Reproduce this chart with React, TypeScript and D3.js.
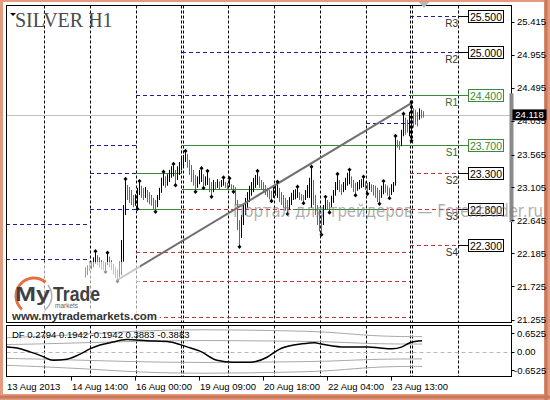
import React from "react";
import * as d3 from "d3";

// ---- price axis ticks
const priceTicks = [25.415, 24.955, 24.495, 24.035, 23.565, 23.105, 22.645, 22.185, 21.725, 21.255];
const lastPrice = 24.118;

// ---- H1 bars (bar index 0.. ), highs / lows / direction (u = up, d = down)
const hi = [
  21.99, 22.02, 22.07, 22.07, 22.13, 22.2, 22.16, 22.13, 22.09, 22.07,
  22.06, 22.18, 22.14, 22.09, 22.04, 21.99, 21.96, 22.07, 22.37, 22.86,
  23.21, 23.14, 23.11, 23.07, 23.0, 23.01, 23.1, 23.18, 23.13, 23.1,
  23.11, 23.07, 23.04, 23.0, 22.96, 22.93, 23.0, 23.1, 23.24, 23.31,
  23.26, 23.29, 23.35, 23.4, 23.42, 23.35, 23.4, 23.46, 23.52, 23.56,
  23.6, 23.57, 23.49, 23.42, 23.35, 23.28, 23.26, 23.35, 23.36, 23.29,
  23.26, 23.32, 23.24, 23.18, 23.21, 23.18, 23.22, 23.19, 23.21, 23.23,
  23.18, 23.17, 23.22, 23.15, 23.14, 23.11, 22.93, 22.65, 22.72, 22.86,
  22.96, 23.04, 23.13, 23.18, 23.24, 23.28, 23.32, 23.26, 23.21, 23.18,
  23.14, 23.1, 23.07, 23.06, 23.13, 23.14, 23.17, 23.1, 23.04, 23.0,
  22.96, 22.93, 22.97, 23.03, 23.07, 23.08, 23.1, 23.04, 23.01, 23.0,
  23.07, 23.14, 23.24, 23.38, 23.21, 23.0, 22.86, 22.79, 22.72, 22.86,
  22.96, 22.93, 22.9, 22.99, 23.07, 23.18, 23.28, 23.21, 23.15, 23.18,
  23.24, 23.31, 23.34, 23.26, 23.21, 23.17, 23.18, 23.21, 23.22, 23.24,
  23.19, 23.17, 23.18, 23.15, 23.14, 23.13, 23.1, 23.07, 23.13, 23.18,
  23.15, 23.13, 23.1, 23.15, 23.18, 23.81, 23.77, 23.75, 23.91, 24.12,
  24.08, 24.05, 24.16, 24.28, 24.21, 24.19, 24.16, 24.21, 24.19, 24.17,
];
const lo = [
  21.85, 21.88, 21.94, 21.96, 21.99, 22.04, 22.02, 21.99, 21.96, 21.95,
  21.94, 22.02, 21.99, 21.95, 21.89, 21.84, 21.81, 21.85, 21.88, 22.07,
  22.72, 22.93, 22.89, 22.86, 22.83, 22.85, 22.82, 23.0, 22.96, 22.93,
  22.96, 22.9, 22.87, 22.85, 22.8, 22.78, 22.83, 22.93, 23.03, 23.13,
  23.1, 23.13, 23.18, 23.24, 23.26, 23.15, 23.21, 23.28, 23.35, 23.4,
  23.46, 23.38, 23.28, 23.18, 23.13, 23.06, 23.1, 23.15, 23.18, 23.11,
  23.13, 23.14, 23.04, 22.99, 23.04, 23.07, 23.1, 23.08, 23.11, 23.13,
  23.1, 23.08, 23.11, 23.07, 23.06, 22.86, 22.51, 22.29, 22.4, 22.58,
  22.72, 22.82, 22.9, 22.99, 23.04, 23.1, 23.14, 23.1, 23.07, 23.03,
  23.0, 22.97, 22.94, 22.93, 22.96, 22.99, 22.96, 22.9, 22.86, 22.82,
  22.78, 22.75, 22.79, 22.86, 22.93, 22.94, 22.96, 22.93, 22.92, 22.9,
  22.93, 22.96, 22.96, 22.82, 22.86, 22.72, 22.58, 22.49, 22.46, 22.58,
  22.8, 22.79, 22.77, 22.83, 22.89, 22.99, 23.07, 23.04, 23.0, 23.04,
  23.07, 23.13, 23.15, 23.1, 23.04, 23.01, 23.06, 23.08, 23.1, 23.11,
  23.07, 23.03, 23.07, 23.04, 22.99, 22.96, 22.9, 22.89, 22.96, 23.01,
  23.03, 22.99, 22.97, 23.0, 23.04, 23.13, 23.66, 23.63, 23.68, 23.82,
  23.84, 23.87, 23.82, 23.77, 23.94, 23.98, 23.96, 24.05, 24.07, 24.08,
];
const dir =
  "uuduuudddd" + "uuddddduuu" + "udddduuudd" + "uddddduuuu" + "duuuuduuuu" +
  "uddddduuud" + "uuddududuu" + "dduddddduu" + "uuuuuuuddd" + "dddduuuddd" +
  "dduuuuuddd" + "uuuudddddu" + "udduuuuddu" + "uuuddduuuu" + "dduddddduu" +
  "ddduuudduu" + "dduudddudd";

const fractalUp = [5, 11, 20, 27, 39, 44, 50, 58, 61, 69, 72, 86, 96, 106, 113, 120, 126, 132, 139, 149, 155, 159, 163];
const fractalDown = [10, 16, 26, 35, 45, 55, 59, 63, 74, 77, 93, 101, 109, 118, 122, 135, 141, 147, 152, 163];

// trendline from low of one bar to high of another
const trendFromBar = 16;
const trendToBar = 163;

// ---- time axis
const timeLabels = ["13 Aug 2013", "14 Aug 14:00", "16 Aug 00:00", "19 Aug 09:00", "20 Aug 18:00", "22 Aug 04:00", "23 Aug 13:00"];
const timeTickBars = [-39.5, -7, 25, 57, 89, 121, 153];
const gridBars = [-20.5, 2.5, 25.5, 48, 49, 71.5, 94.5, 117.5, 140.5, 162.5, 163.5, 186.5];

// ---- pivot levels (current day)
const pivotNames = ["R3", "R2", "R1", "S1", "S2", "S3", "S4"];
const pivotValues = [25.5, 25.0, 24.4, 23.7, 23.3, 22.8, 22.3];
const pivotKey = [false, false, true, true, false, false, false];

// ---- level segments (price, from bar, to bar, kind r/g/s)
const levelPrice = [25.5, 25.0, 24.4, 24.0, 23.7, 23.3, 22.8, 22.6, 22.1, 24.4, 23.7, 23.3, 22.8, 23.08, 22.8, 23.3, 22.8, 22.8, 22.3, 22.2, 21.8, 21.3];
const levelFrom = [162.5, 48.5, 25.5, 140.5, 2.5, 2.5, 2.5, -39.5, -39.5, 162.5, 48.5, 25.5, 25.5, 48.5, 104, 162.5, 48.5, 149, 162.5, 25.5, 25.5, 25.5];
const levelTo = [186.5, 186.5, 162.5, 162.5, 25.5, 25.5, 25.5, 1, 1, 191.5, 191.5, 48, 48, 91, 149, 186.5, 104, 186.5, 186.5, 162.5, 162.5, 162.5];
const levelKind = "rrrrrrrrrggggggsssssss";

const rangeBar = [22.62, 24.42];

// ---- DF indicator
const dfBars = [-39, -34, -27.5, -21.5, -16, -9, -2.5, 2.5, 7.5, 12.5, 21, 31, 42.5, 51, 57.5, 66, 74, 82.5, 91, 95, 98.5, 108.5, 115, 117.5, 128.5, 141.5, 147.5, 153.5, 158.5, 162.5, 168.5];
const dfValues = [0.12, 0.09, -0.01, -0.12, -0.23, -0.2, -0.07, 0.07, 0.17, 0.23, 0.31, 0.28, 0.25, 0.12, 0.01, -0.23, -0.28, -0.28, -0.15, -0.01, 0.09, 0.2, 0.23, 0.2, 0.12, 0.12, 0.09, 0.07, 0.12, 0.23, 0.2794];
const bandBars = [-39.5, -20, 0, 20, 40, 60, 80, 100, 120, 140, 155, 168.5];
const bandOuter = [0.36, 0.4, 0.45, 0.52, 0.56, 0.57, 0.56, 0.54, 0.52, 0.42, 0.39, 0.3883];
const bandInner = [0.18, 0.2, 0.23, 0.26, 0.28, 0.29, 0.28, 0.27, 0.26, 0.21, 0.195, 0.1942];
const dfAxis = ["0.6525", "0.00", "-0.6525"];
const dfLegend = "DF 0.2794 0.1942 -0.1942 0.3883 -0.3883";

const RED = "#D03A3A";
const NAVY = "#1E1E9C";
const GREEN = "#3A8A3A";
const SUP = "#C03838";
const SANS = "'Liberation Sans', Arial, sans-serif";

export default function App() {
  const W = 550, H = 400;
  const L = 6.5, R = 511.5, T = 5.5, B = 322.5, ST = 325.5, SB = 376.5;
  const x = d3.scaleLinear().domain([-39.5, 213]).range([6, 511]);
  const y = d3.scaleLinear().domain([21.22, 25.652]).range([322.5, 5]);
  const yi = d3.scaleLinear().domain([-0.6525, 0.6525]).range([376.5, 326.5]);
  const px = (i: number) => Math.round(x(i)) + 0.5;

  const dfPath = d3.line<number>().x((_, k) => x(dfBars[k])).y((v) => yi(v)).curve(d3.curveMonotoneX)(dfValues) || "";
  const bandPath = (arr: number[], s: number) =>
    d3.line<number>().x((_, k) => x(bandBars[k])).y((v) => yi(s * v)).curve(d3.curveBasis)(arr) || "";

  const orangeArc = d3.arc()({ innerRadius: 16.5, outerRadius: 19.5, startAngle: -2.4, endAngle: 0.7 } as any) || "";
  const grayArc = d3.arc()({ innerRadius: 17, outerRadius: 18.5, startAngle: 0.9, endAngle: 2.5 } as any) || "";

  const diamond = (cx: number, cy: number) => `M${cx},${cy - 2.2}L${cx + 2},${cy}L${cx},${cy + 2.2}L${cx - 2},${cy}Z`;

  return (
    <svg width={W} height={H} style={{ position: "fixed", left: 0, top: 0 }} fontFamily={SANS}>
      <defs>
        <clipPath id="mainClip"><rect x={L} y={T} width={R - L} height={B - T} /></clipPath>
        <clipPath id="subClip"><rect x={L} y={ST} width={R - L} height={SB - ST} /></clipPath>
      </defs>
      {/* frame */}
      <rect x={0} y={0} width={W} height={H} fill="#E49A7E" />
      <rect x={3} y={2} width={541} height={392} fill="#ffffff" />
      <line x1={546} y1={0} x2={546} y2={400} stroke="#C9785C" strokeWidth={3} />
      <line x1={0} y1={397} x2={550} y2={397} stroke="#C9785C" strokeWidth={3} />

      {/* main panel */}
      <g clipPath="url(#mainClip)">
        {gridBars.map((g, k) => (
          <line key={"g" + k} x1={px(g)} x2={px(g)} y1={T} y2={B} stroke="#000" strokeDasharray="3,2" />
        ))}
        <line x1={L} x2={R} y1={Math.round(y(lastPrice)) + 0.5} y2={Math.round(y(lastPrice)) + 0.5} stroke="#C0C0C0" />
        {levelPrice.map((p, k) => {
          const kind = levelKind[k];
          const yy = Math.round(y(p)) + 0.5;
          return (
            <line key={"lv" + k} x1={x(levelFrom[k])} x2={x(levelTo[k])} y1={yy} y2={yy}
              stroke={kind === "r" ? NAVY : kind === "g" ? GREEN : SUP}
              strokeDasharray={kind === "g" ? undefined : "4,3"} />
          );
        })}
        {hi.map((h, i) => (
          <line key={"b" + i} x1={px(i)} x2={px(i)} y1={y(h)} y2={y(lo[i])}
            stroke={dir[i] === "d" ? RED : "#000"} strokeWidth={1} />
        ))}
        <line x1={x(trendFromBar)} y1={y(lo[trendFromBar])} x2={x(trendToBar)} y2={y(hi[trendToBar])} stroke="#707070" strokeWidth={2} />
        {fractalUp.map((i) => <path key={"fu" + i} d={diamond(px(i), y(hi[i]) - 1)} fill="#000" />)}
        {fractalDown.map((i) => <path key={"fd" + i} d={diamond(px(i), y(lo[i]) + 1)} fill="#000" />)}

        {/* pivot labels */}
        {pivotValues.map((p, k) => {
          const yy = Math.round(y(p)) + 0.5;
          const col = pivotKey[k] ? GREEN : "#000";
          return (
            <g key={"pv" + k}>
              <line x1={x(186.5)} x2={468.5} y1={yy} y2={yy} stroke={col} />
              <text x={458} y={yy + 10.5} textAnchor="end" fontSize={10} fill={pivotKey[k] ? "#2F6F2F" : "#333"}>{pivotNames[k]}</text>
              <rect x={468.5} y={yy - 6} width={35} height={12} fill="#fff" stroke={col} />
              <text x={486} y={yy + 4} textAnchor="middle" fontSize={10.5} fill={pivotKey[k] ? GREEN : "#000"}>{p.toFixed(3)}</text>
            </g>
          );
        })}

        {/* logo */}
        <rect x={8} y={262} width={132} height={47} fill="#fff" opacity={0.6} />
        <rect x={8} y={309} width={152} height={13} fill="#fff" opacity={0.85} />
        <g transform="translate(34,296)">
          <path d={orangeArc} fill="#E2703A" />
          <path d={grayArc} fill="#B0B0B0" />
        </g>
        <text x={15} y={301} fontSize={21} fontWeight="bold" fill="#404040" textLength={35} lengthAdjust="spacingAndGlyphs">My</text>
        <text x={53} y={301} fontSize={21} fontWeight="bold" fill="#404040" textLength={47} lengthAdjust="spacingAndGlyphs">Trade</text>
        <text x={55} y={308} fontSize={6.5} fill="#666">markets</text>
        <text x={12} y={320} fontSize={11.5} fontWeight="bold" fill="#333" textLength={145} lengthAdjust="spacingAndGlyphs">www.mytrademarkets.com</text>
      </g>
      <rect x={L} y={T} width={R - L} height={B - T} fill="none" stroke="#000" />
      <rect x={509.5} y={y(rangeBar[1])} width={4} height={y(rangeBar[0]) - y(rangeBar[1])} fill="#8A8A8A" />

      {/* title */}
      <polygon points="10,13 16,13 13,16" fill="#000" />
      <text x={15} y={27} fontSize={20} fontFamily="'Liberation Serif', 'Times New Roman', serif" fill="#4a4a4a">SILVER H1</text>
      <polygon points="419,2 429,2 424,8" fill="#B8B8B8" />

      {/* price axis */}
      {priceTicks.map((p, k) => (
        <g key={"pt" + k}>
          <line x1={R} x2={R + 3} y1={Math.round(y(p)) + 0.5} y2={Math.round(y(p)) + 0.5} stroke="#000" />
          <text x={517} y={y(p) + 3.5} fontSize={9.5} fill="#000">{p.toFixed(3)}</text>
        </g>
      ))}
      <rect x={512.5} y={y(lastPrice) - 5.5} width={34} height={11} fill="#000" />
      <text x={529.5} y={y(lastPrice) + 3.5} fontSize={9.5} fill="#fff" textAnchor="middle">{lastPrice.toFixed(3)}</text>

      {/* indicator panel */}
      <g clipPath="url(#subClip)">
        {gridBars.map((g, k) => (
          <line key={"sg" + k} x1={px(g)} x2={px(g)} y1={ST} y2={SB} stroke="#000" strokeDasharray="3,2" />
        ))}
        <line x1={L} x2={R} y1={Math.round(yi(0)) + 0.5} y2={Math.round(yi(0)) + 0.5} stroke="#B8B8B8" strokeDasharray="4,3" />
        {[bandOuter, bandInner].map((arr, k) => (
          <g key={"bd" + k}>
            <path d={bandPath(arr, 1)} fill="none" stroke="#A8A8A8" />
            <path d={bandPath(arr, -1)} fill="none" stroke="#A8A8A8" />
          </g>
        ))}
        <path d={dfPath} fill="none" stroke="#000" strokeWidth={1.5} />
        <text x={12} y={338} fontSize={9.5} fill="#000">{dfLegend}</text>
      </g>
      <rect x={L} y={ST} width={R - L} height={SB - ST} fill="none" stroke="#000" />
      <text x={517} y={336.5} fontSize={9.5} fill="#000">{dfAxis[0]}</text>
      <text x={517} y={355} fontSize={9.5} fill="#000">{dfAxis[1]}</text>
      <text x={514} y={373.5} fontSize={9.5} fill="#000">{dfAxis[2]}</text>
      {[0.6525, 0, -0.6525].map((v, k) => (
        <line key={"st" + k} x1={R} x2={R + 3} y1={k === 0 ? 333.5 : k === 1 ? 352.5 : 370.5} y2={k === 0 ? 333.5 : k === 1 ? 352.5 : 370.5} stroke="#000" />
      ))}

      {/* time axis */}
      {timeTickBars.map((b, k) => (
        <g key={"tt" + k}>
          {k > 0 && <line x1={px(b)} x2={px(b)} y1={SB} y2={SB + 4} stroke="#000" />}
          <text x={k === 0 ? 7 : x(b) + 1} y={390} fontSize={9.5} fill="#000">{timeLabels[k]}</text>
        </g>
      ))}

      {/* watermark */}
      <text x={233} y={217} fontSize={17} fontFamily="'DejaVu Sans', sans-serif" fill="#808080" opacity={0.62}
        textLength={310} lengthAdjust="spacingAndGlyphs">Портал для трейдеров — Forextrader.ru</text>
    </svg>
  );
}
